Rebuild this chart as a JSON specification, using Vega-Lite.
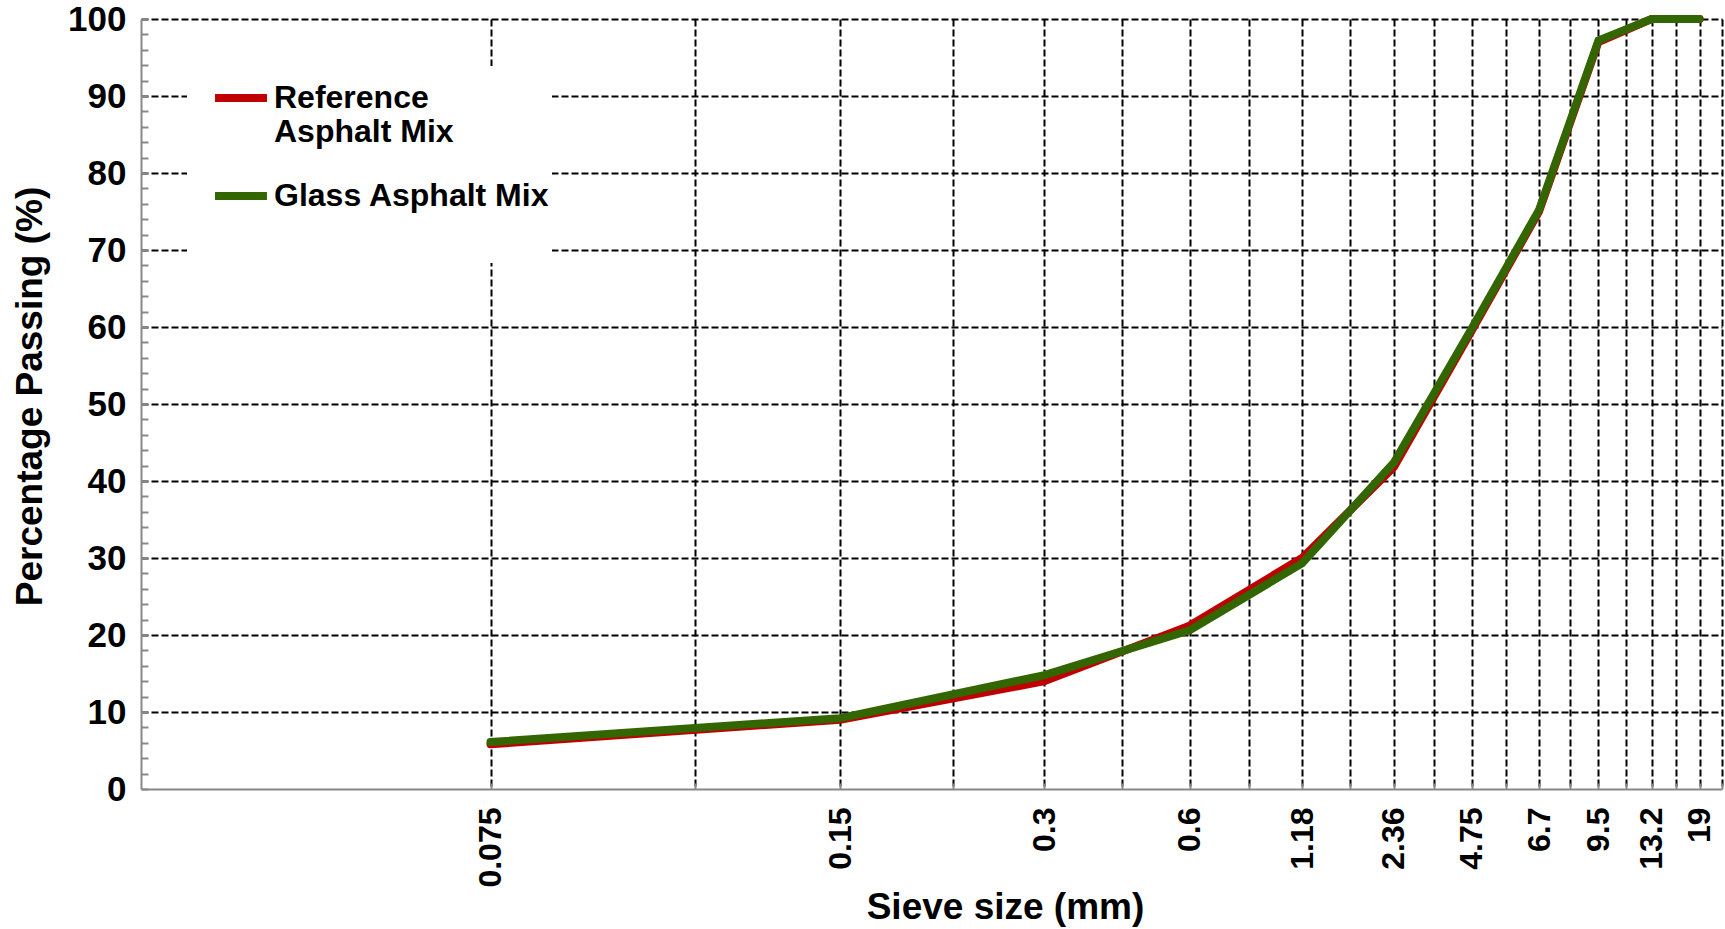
{
  "$schema": "https://vega.github.io/schema/vega-lite/v6.json",
  "width": 1581,
  "height": 770,
  "autosize": {"type": "none"},
  "padding": {"left": 141, "top": 19, "right": 3, "bottom": 140},
  "background": "white",
  "config": {"view": {"stroke": null}, "font": "Liberation Sans"},
  "data": {
    "values": [
      {"n": 1, "sieve": "0.075", "mix": "Reference Asphalt Mix", "pct": 5.8},
      {"n": 2, "sieve": "0.15", "mix": "Reference Asphalt Mix", "pct": 9.0},
      {"n": 3, "sieve": "0.3", "mix": "Reference Asphalt Mix", "pct": 14.0},
      {"n": 4, "sieve": "0.6", "mix": "Reference Asphalt Mix", "pct": 21.2},
      {"n": 5, "sieve": "1.18", "mix": "Reference Asphalt Mix", "pct": 30.0},
      {"n": 6, "sieve": "2.36", "mix": "Reference Asphalt Mix", "pct": 41.8},
      {"n": 7, "sieve": "4.75", "mix": "Reference Asphalt Mix", "pct": 59.5},
      {"n": 8, "sieve": "6.7", "mix": "Reference Asphalt Mix", "pct": 75.0},
      {"n": 9, "sieve": "9.5", "mix": "Reference Asphalt Mix", "pct": 97.0},
      {"n": 10, "sieve": "13.2", "mix": "Reference Asphalt Mix", "pct": 100},
      {"n": 11, "sieve": "19", "mix": "Reference Asphalt Mix", "pct": 100},
      {"n": 1, "sieve": "0.075", "mix": "Glass Asphalt Mix", "pct": 6.1},
      {"n": 2, "sieve": "0.15", "mix": "Glass Asphalt Mix", "pct": 9.2},
      {"n": 3, "sieve": "0.3", "mix": "Glass Asphalt Mix", "pct": 14.8},
      {"n": 4, "sieve": "0.6", "mix": "Glass Asphalt Mix", "pct": 20.6},
      {"n": 5, "sieve": "1.18", "mix": "Glass Asphalt Mix", "pct": 29.3},
      {"n": 6, "sieve": "2.36", "mix": "Glass Asphalt Mix", "pct": 42.4},
      {"n": 7, "sieve": "4.75", "mix": "Glass Asphalt Mix", "pct": 59.8},
      {"n": 8, "sieve": "6.7", "mix": "Glass Asphalt Mix", "pct": 75.2},
      {"n": 9, "sieve": "9.5", "mix": "Glass Asphalt Mix", "pct": 97.2},
      {"n": 10, "sieve": "13.2", "mix": "Glass Asphalt Mix", "pct": 100},
      {"n": 11, "sieve": "19", "mix": "Glass Asphalt Mix", "pct": 100}
    ]
  },
  "encoding": {
    "x": {
      "field": "n",
      "type": "quantitative",
      "scale": {"type": "log", "domain": [0.5, 11.5], "nice": false},
      "axis": {
        "title": "Sieve size (mm)",
        "values": [1, 1.5, 2, 2.5, 3, 3.5, 4, 4.5, 5, 5.5, 6, 6.5, 7, 7.5, 8, 8.5, 9, 9.5, 10, 10.5, 11, 11.5],
        "labelExpr": "datum.value % 1 === 0 ? ['0.075','0.15','0.3','0.6','1.18','2.36','4.75','6.7','9.5','13.2','19'][datum.value - 1] : ''",
        "labelAngle": -90,
        "labelAlign": "right",
        "labelBaseline": "middle",
        "labelFont": "Liberation Sans",
        "labelFontSize": 32,
        "labelFontWeight": "bold",
        "labelColor": "black",
        "labelPadding": 24,
        "labelOverlap": false,
        "labelFlush": false,
        "grid": true,
        "gridColor": "black",
        "gridDash": [7, 3],
        "gridWidth": 2,
        "ticks": true,
        "tickColor": "#888888",
        "tickSize": -6,
        "tickWidth": 2,
        "domainColor": "#888888",
        "domainWidth": 2,
        "titleFont": "Liberation Sans",
        "titleFontSize": 37,
        "titleFontWeight": "bold",
        "titleColor": "black",
        "titleX": 864,
        "titleY": 118,
        "titleBaseline": "middle"
      }
    },
    "y": {
      "field": "pct",
      "type": "quantitative",
      "scale": {"domain": [0, 100], "nice": false},
      "axis": {
        "title": "Percentage Passing (%)",
        "values": [0, 2, 4, 6, 8, 10, 12, 14, 16, 18, 20, 22, 24, 26, 28, 30, 32, 34, 36, 38, 40, 42, 44, 46, 48, 50, 52, 54, 56, 58, 60, 62, 64, 66, 68, 70, 72, 74, 76, 78, 80, 82, 84, 86, 88, 90, 92, 94, 96, 98, 100],
        "labelExpr": "datum.value % 10 === 0 ? datum.label : ''",
        "labelFont": "Liberation Sans",
        "labelFontSize": 35,
        "labelFontWeight": "bold",
        "labelColor": "black",
        "labelPadding": 22,
        "labelOverlap": false,
        "labelFlush": false,
        "grid": true,
        "gridColor": "black",
        "gridDash": [7, 3],
        "gridWidth": 2,
        "gridOpacity": {"condition": {"test": "datum.value % 10 === 0 && datum.value > 0", "value": 1}, "value": 0},
        "ticks": true,
        "tickColor": "#888888",
        "tickSize": -7,
        "tickWidth": 2,
        "domainColor": "#888888",
        "domainWidth": 2,
        "titleFont": "Liberation Sans",
        "titleFontSize": 37,
        "titleFontWeight": "bold",
        "titleColor": "black",
        "titleX": -111,
        "titleY": 377,
        "titleBaseline": "middle",
        "titleAlign": "center"
      }
    },
    "color": {
      "field": "mix",
      "type": "nominal",
      "scale": {"domain": ["Reference Asphalt Mix", "Glass Asphalt Mix"], "range": ["#c00000", "#336600"]},
      "legend": {
        "orient": "none",
        "legendX": 46,
        "legendY": 47,
        "title": "\u00a0\u00a0\u00a0\u00a0\u00a0\u00a0\u00a0\u00a0\u00a0\u00a0\u00a0\u00a0\u00a0\u00a0\u00a0\u00a0\u00a0\u00a0\u00a0\u00a0\u00a0\u00a0\u00a0\u00a0\u00a0\u00a0\u00a0\u00a0\u00a0\u00a0\u00a0\u00a0\u00a0\u00a0\u00a0\u00a0\u00a0\u00a0\u00a0\u00a0\u00a0\u00a0\u00a0\u00a0\u00a0\u00a0\u00a0\u00a0\u00a0\u00a0\u00a0\u00a0\u00a0\u00a0",
        "titleOrient": "bottom",
        "titleFontSize": 26,
        "titlePadding": 23,
        "titleLimit": 1000,
        "fillColor": "white",
        "padding": 2,
        "symbolOffset": 22,
        "symbolType": "stroke",
        "symbolStrokeWidth": 8,
        "symbolSize": 2700,
        "labelFont": "Liberation Sans",
        "labelFontSize": 32,
        "labelFontWeight": "bold",
        "labelColor": "black",
        "labelLimit": 600,
        "labelOffset": 3,
        "labelLineHeight": 38,
        "rowPadding": 18,
        "labelExpr": "datum.label === 'Reference Asphalt Mix' ? ['\u00a0Reference', 'Asphalt Mix'] : datum.label"
      }
    }
  },
  "layer": [
    {
      "transform": [{"filter": "datum.mix === 'Reference Asphalt Mix'"}],
      "mark": {"type": "line", "strokeWidth": 8, "strokeCap": "round"}
    },
    {
      "transform": [{"filter": "datum.mix === 'Glass Asphalt Mix'"}],
      "mark": {"type": "line", "strokeWidth": 8, "strokeCap": "round"}
    }
  ]
}
